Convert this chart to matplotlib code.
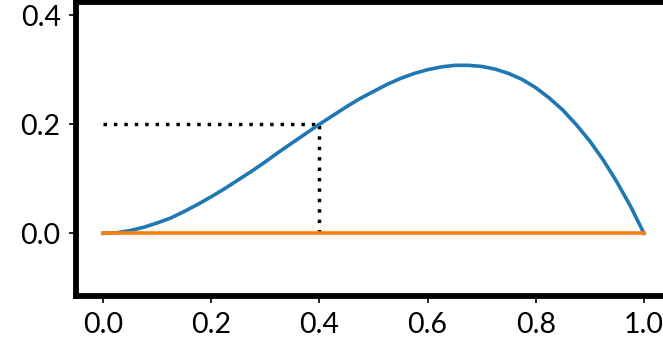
import matplotlib
matplotlib.use("Agg")
import matplotlib.pyplot as plt

# sampled curve (x from 0 to 1 in steps of 0.025)
xs = [0.000, 0.025, 0.050, 0.075, 0.100, 0.125, 0.150, 0.175, 0.200, 0.225,
      0.250, 0.275, 0.300, 0.325, 0.350, 0.375, 0.400, 0.425, 0.450, 0.475,
      0.500, 0.525, 0.550, 0.575, 0.600, 0.625, 0.650, 0.675, 0.700, 0.725,
      0.750, 0.775, 0.800, 0.825, 0.850, 0.875, 0.900, 0.925, 0.950, 0.975,
      1.000]
ys = [0.000, 0.001, 0.005, 0.011, 0.019, 0.028, 0.040, 0.053, 0.067, 0.082,
      0.098, 0.114, 0.131, 0.149, 0.166, 0.183, 0.200, 0.216, 0.232, 0.247,
      0.260, 0.273, 0.284, 0.293, 0.300, 0.305, 0.308, 0.308, 0.306, 0.301,
      0.293, 0.282, 0.267, 0.248, 0.226, 0.199, 0.169, 0.134, 0.094, 0.050,
      0.000]

# baseline
base_x = [0.0, 1.0]
base_y = [0.0, 0.0]

# marked point on the curve
px, py = 0.4, 0.2

xticks = [0.0, 0.2, 0.4, 0.6, 0.8, 1.0]
yticks = [0.0, 0.2, 0.4]

plt.rcParams["font.family"] = ["Lato", "DejaVu Sans"]

fig = plt.figure(figsize=(6.63, 3.49), dpi=100)
ax = fig.add_axes([76 / 663, 53.5 / 349, 595 / 663, 294 / 349])

ax.plot([0.0, px], [py, py], color="black", lw=2.5, dashes=(1, 2),
        dash_capstyle="butt", zorder=2)
ax.plot([px, px], [0.0, py], color="black", lw=2.5, dashes=(1, 2),
        dash_capstyle="butt", zorder=2)
ax.plot(xs, ys, color="#1f77b4", lw=2.6, zorder=3)
ax.plot(base_x, base_y, color="#ff7f0e", lw=2.6, zorder=4)

ax.set_xlim(-0.05, 1.05)
ax.set_ylim(-0.114, 0.425)
ax.set_xticks(xticks)
ax.set_yticks(yticks)
ax.set_xticklabels([f"{v:.1f}" for v in xticks])
ax.set_yticklabels([f"{v:.1f}" for v in yticks])

for s in ax.spines.values():
    s.set_linewidth(4.2)
ax.tick_params(axis="both", length=5, width=1.2, labelsize=20.5)
ax.tick_params(axis="x", pad=7)
ax.tick_params(axis="y", pad=6)

fig.savefig("out.png", dpi=100)
